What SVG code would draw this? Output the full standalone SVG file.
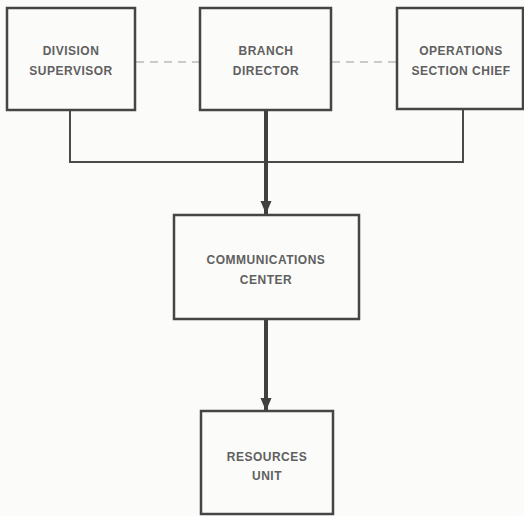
<svg xmlns="http://www.w3.org/2000/svg" width="524" height="516" viewBox="0 0 524 516">
<defs>
<style>
.box{fill:#fbfbf9;stroke:#454545;stroke-width:2.5}
.t{font-family:"Liberation Sans",Arial,sans-serif;font-weight:bold;font-size:12px;fill:#606060;text-anchor:middle;letter-spacing:0.5px}
.thin{fill:none;stroke:#4a4a4a;stroke-width:2}
.thick{fill:none;stroke:#404040;stroke-width:4}
.dash{fill:none;stroke:#9a9a9a;stroke-width:1.2;stroke-dasharray:8,6}
</style>
<marker id="ah" viewBox="0 0 10 10" refX="10" refY="5" markerWidth="3.3" markerHeight="2.8" orient="auto" markerUnits="strokeWidth" preserveAspectRatio="none">
<path d="M0,0 L10,5 L0,10 Z" fill="#404040"/>
</marker>
</defs>
<rect width="524" height="516" fill="#fbfbf9"/>
<g id="connectors">
<line class="dash" x1="136" y1="62" x2="199" y2="62"/>
<line class="dash" x1="332" y1="62" x2="396" y2="62"/>
<polyline class="thin" points="70,110 70,162 463,162 463,109"/>
<line class="thick" x1="266" y1="110" x2="266" y2="214" marker-end="url(#ah)"/>
<line class="thick" x1="266" y1="319" x2="266" y2="411" marker-end="url(#ah)"/>
</g>
<g id="division-supervisor">
<rect class="box" x="7" y="8" width="128" height="102"/>
<text class="t" x="71" y="55">DIVISION</text>
<text class="t" x="71" y="75">SUPERVISOR</text>
</g>
<g id="branch-director">
<rect class="box" x="200" y="8" width="131" height="102"/>
<text class="t" x="266" y="55">BRANCH</text>
<text class="t" x="266" y="75">DIRECTOR</text>
</g>
<g id="operations-section-chief">
<rect class="box" x="397" y="8" width="126" height="101"/>
<text class="t" x="461" y="55">OPERATIONS</text>
<text class="t" x="461" y="75">SECTION CHIEF</text>
</g>
<g id="communications-center">
<rect class="box" x="174" y="215" width="185" height="104"/>
<text class="t" x="266" y="264">COMMUNICATIONS</text>
<text class="t" x="266" y="284">CENTER</text>
</g>
<g id="resources-unit">
<rect class="box" x="201" y="411" width="132" height="103"/>
<text class="t" x="267" y="461">RESOURCES</text>
<text class="t" x="267" y="480">UNIT</text>
</g>
</svg>
